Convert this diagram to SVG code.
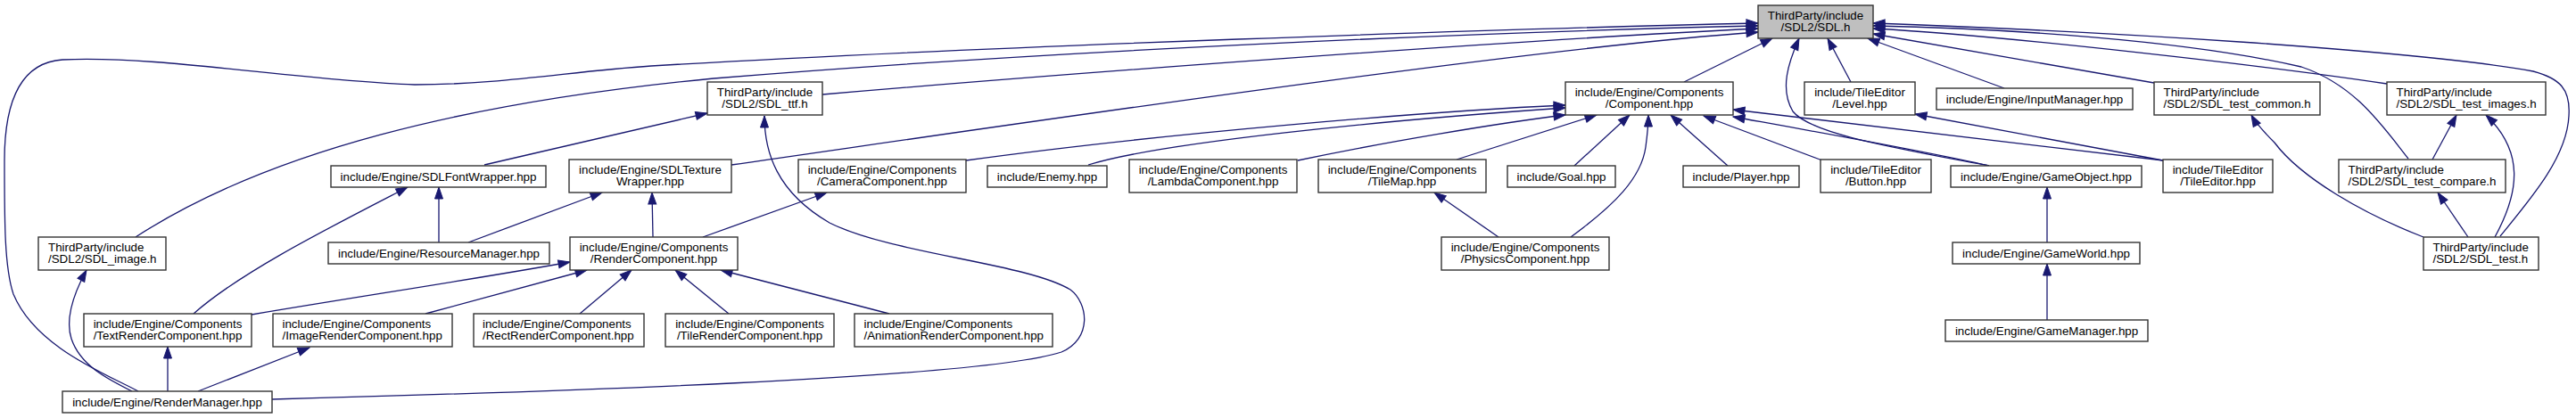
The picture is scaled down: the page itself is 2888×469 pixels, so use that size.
<svg xmlns="http://www.w3.org/2000/svg" width="2888" height="469" viewBox="0 0 2888 469">
<style>
.node rect{fill:#ffffff;stroke:#333333;stroke-width:1.4}
.node.focus rect{fill:#bfbfbf}
.node text{font-family:"Liberation Sans",Arial,Helvetica,sans-serif;font-size:13.33px;fill:#000000}
.c{text-anchor:middle}
.l{text-anchor:start}
.edge{fill:none;stroke:#191970;stroke-width:1.3;marker-end:url(#arr)}
</style>
<defs>
<marker id="arr" markerUnits="userSpaceOnUse" viewBox="0 0 13 9" refX="13" refY="4.5" markerWidth="13" markerHeight="9" orient="auto" overflow="visible">
<path d="M0,0 L13,4.5 L0,9 Z" fill="#191970" stroke="#191970" stroke-width="1"/>
</marker>
</defs>
<rect x="0" y="0" width="2888" height="469" fill="#ffffff"/>
<g id="edges">
<path class="edge" d="M155,439 C120,420 40,390 15,330 C5,300 5,250 5,180 C5,110 25,70 70,67 C180,62 330,90 465,95 C560,95 640,80 730,74 C1100,52 1700,32 1971,26"/>
<path class="edge" d="M152,266 C300,170 520,115 800,88 C1200,55 1700,35 1971,29"/>
<path class="edge" d="M922,106 C1200,82 1700,45 1971,32"/>
<path class="edge" d="M820,185 C1100,145 1700,55 1971,36"/>
<path class="edge" d="M1888,92 L1987,43"/>
<path class="edge" d="M2230,186 C2120,165 2030,150 2010,125 C1995,100 2005,70 2017,43"/>
<path class="edge" d="M2075,92 L2049,43"/>
<path class="edge" d="M2247,99 L2094,43"/>
<path class="edge" d="M2415,93 L2100,38"/>
<path class="edge" d="M2676,94 C2550,75 2250,40 2100,32"/>
<path class="edge" d="M2700,178 C2670,140 2640,95 2580,75 C2450,45 2250,32 2100,29"/>
<path class="edge" d="M2803,265 C2840,220 2878,175 2880,130 C2882,100 2870,88 2840,80 C2700,55 2350,35 2100,26"/>
<path class="edge" d="M543,185 L793,127"/>
<path class="edge" d="M305,448 C600,440 1100,425 1190,395 C1225,380 1220,340 1200,325 C1150,295 1000,285 930,250 C870,215 857,170 857,130"/>
<path class="edge" d="M492,272 L492,210"/>
<path class="edge" d="M217,352 C270,305 370,255 457,210"/>
<path class="edge" d="M525,272 L675,216"/>
<path class="edge" d="M732,266 L731,216"/>
<path class="edge" d="M788,266 L927,216"/>
<path class="edge" d="M282,353 C400,333 540,312 639,294"/>
<path class="edge" d="M477,352 L658,303"/>
<path class="edge" d="M650,352 L708,303"/>
<path class="edge" d="M817,352 L757,303"/>
<path class="edge" d="M997,352 L808,303"/>
<path class="edge" d="M148,439 C120,425 90,410 80,380 C72,355 85,325 97,303"/>
<path class="edge" d="M188,439 L188,389"/>
<path class="edge" d="M222,439 L347,390"/>
<path class="edge" d="M1083,180 C1300,150 1600,125 1755,118"/>
<path class="edge" d="M1220,185 C1300,160 1550,135 1755,121"/>
<path class="edge" d="M1455,180 C1550,160 1680,138 1755,129"/>
<path class="edge" d="M1633,179 L1790,129"/>
<path class="edge" d="M1765,186 L1827,129"/>
<path class="edge" d="M1761,266 C1810,230 1840,200 1845,165 C1847,150 1848,140 1848,129"/>
<path class="edge" d="M1937,186 L1873,129"/>
<path class="edge" d="M2043,180 L1910,130"/>
<path class="edge" d="M2230,186 C2150,168 2020,145 1943,131"/>
<path class="edge" d="M2425,180 L1943,123"/>
<path class="edge" d="M1680,266 L1608,216"/>
<path class="edge" d="M2425,180 L2147,128"/>
<path class="edge" d="M2295,272 L2295,210"/>
<path class="edge" d="M2295,359 L2295,296"/>
<path class="edge" d="M2717,266 C2650,240 2580,200 2550,160 C2540,150 2530,140 2524,129"/>
<path class="edge" d="M2727,179 L2754,129"/>
<path class="edge" d="M2797,266 C2825,215 2830,170 2787,129"/>
<path class="edge" d="M2767,266 L2733,216"/>
</g>
<g id="node-sdl" class="node focus"><rect x="1971" y="6" width="129" height="37"/><text class="c" x="2035.5" y="22.3">ThirdParty/include</text><text class="c" x="2035.5" y="35.3">/SDL2/SDL.h</text></g>
<g id="node-sdl-ttf" class="node"><rect x="793" y="92" width="129" height="37"/><text class="c" x="857.5" y="108.3">ThirdParty/include</text><text class="c" x="857.5" y="121.3">/SDL2/SDL_ttf.h</text></g>
<g id="node-sdlfontwrapper" class="node"><rect x="371" y="186" width="241" height="24"/><text class="c" x="491.5" y="202.5">include/Engine/SDLFontWrapper.hpp</text></g>
<g id="node-sdltexturewrapper" class="node"><rect x="638" y="179" width="182" height="37"/><text class="c" x="729" y="195.3">include/Engine/SDLTexture</text><text class="c" x="729" y="208.3">Wrapper.hpp</text></g>
<g id="node-camera" class="node"><rect x="895" y="179" width="188" height="37"/><text class="c" x="989" y="195.3">include/Engine/Components</text><text class="c" x="989" y="208.3">/CameraComponent.hpp</text></g>
<g id="node-enemy" class="node"><rect x="1107" y="186" width="134" height="24"/><text class="c" x="1174" y="202.5">include/Enemy.hpp</text></g>
<g id="node-lambda" class="node"><rect x="1266" y="179" width="188" height="37"/><text class="c" x="1360" y="195.3">include/Engine/Components</text><text class="c" x="1360" y="208.3">/LambdaComponent.hpp</text></g>
<g id="node-tilemap" class="node"><rect x="1478" y="179" width="188" height="37"/><text class="c" x="1572" y="195.3">include/Engine/Components</text><text class="c" x="1572" y="208.3">/TileMap.hpp</text></g>
<g id="node-goal" class="node"><rect x="1690" y="186" width="121" height="24"/><text class="c" x="1750.5" y="202.5">include/Goal.hpp</text></g>
<g id="node-component" class="node"><rect x="1755" y="92" width="188" height="37"/><text class="c" x="1849" y="108.3">include/Engine/Components</text><text class="c" x="1849" y="121.3">/Component.hpp</text></g>
<g id="node-player" class="node"><rect x="1887" y="186" width="130" height="24"/><text class="c" x="1952" y="202.5">include/Player.hpp</text></g>
<g id="node-button" class="node"><rect x="2041" y="179" width="124" height="37"/><text class="c" x="2103" y="195.3">include/TileEditor</text><text class="c" x="2103" y="208.3">/Button.hpp</text></g>
<g id="node-level" class="node"><rect x="2023" y="92" width="124" height="37"/><text class="c" x="2085" y="108.3">include/TileEditor</text><text class="c" x="2085" y="121.3">/Level.hpp</text></g>
<g id="node-inputmanager" class="node"><rect x="2171" y="99" width="220" height="24"/><text class="c" x="2281" y="115.5">include/Engine/InputManager.hpp</text></g>
<g id="node-gameobject" class="node"><rect x="2187" y="186" width="214" height="24"/><text class="c" x="2294" y="202.5">include/Engine/GameObject.hpp</text></g>
<g id="node-tileeditor" class="node"><rect x="2425" y="179" width="123" height="37"/><text class="c" x="2486.5" y="195.3">include/TileEditor</text><text class="c" x="2486.5" y="208.3">/TileEditor.hpp</text></g>
<g id="node-sdl-test-common" class="node"><rect x="2415" y="92" width="186" height="37"/><text class="l" x="2425.5" y="108.3">ThirdParty/include</text><text class="l" x="2425.5" y="121.3">/SDL2/SDL_test_common.h</text></g>
<g id="node-sdl-test-images" class="node"><rect x="2676" y="92" width="178" height="37"/><text class="l" x="2686.5" y="108.3">ThirdParty/include</text><text class="l" x="2686.5" y="121.3">/SDL2/SDL_test_images.h</text></g>
<g id="node-sdl-test-compare" class="node"><rect x="2622" y="179" width="187" height="37"/><text class="l" x="2632.5" y="195.3">ThirdParty/include</text><text class="l" x="2632.5" y="208.3">/SDL2/SDL_test_compare.h</text></g>
<g id="node-sdl-test" class="node"><rect x="2717" y="266" width="129" height="37"/><text class="l" x="2727.5" y="282.3">ThirdParty/include</text><text class="l" x="2727.5" y="295.3">/SDL2/SDL_test.h</text></g>
<g id="node-sdl-image" class="node"><rect x="43" y="266" width="143" height="37"/><text class="l" x="54" y="282.3">ThirdParty/include</text><text class="l" x="54" y="295.3">/SDL2/SDL_image.h</text></g>
<g id="node-resourcemanager" class="node"><rect x="368" y="272" width="248" height="24"/><text class="c" x="492" y="288.5">include/Engine/ResourceManager.hpp</text></g>
<g id="node-rendercomponent" class="node"><rect x="639" y="266" width="188" height="37"/><text class="c" x="733" y="282.3">include/Engine/Components</text><text class="c" x="733" y="295.3">/RenderComponent.hpp</text></g>
<g id="node-physics" class="node"><rect x="1616" y="266" width="188" height="37"/><text class="c" x="1710" y="282.3">include/Engine/Components</text><text class="c" x="1710" y="295.3">/PhysicsComponent.hpp</text></g>
<g id="node-gameworld" class="node"><rect x="2189" y="272" width="210" height="24"/><text class="c" x="2294" y="288.5">include/Engine/GameWorld.hpp</text></g>
<g id="node-textrender" class="node"><rect x="94" y="352" width="188" height="37"/><text class="c" x="188" y="368.3">include/Engine/Components</text><text class="c" x="188" y="381.3">/TextRenderComponent.hpp</text></g>
<g id="node-imagerender" class="node"><rect x="306" y="352" width="201" height="37"/><text class="l" x="316.5" y="368.3">include/Engine/Components</text><text class="l" x="316.5" y="381.3">/ImageRenderComponent.hpp</text></g>
<g id="node-rectrender" class="node"><rect x="531" y="352" width="191" height="37"/><text class="l" x="541" y="368.3">include/Engine/Components</text><text class="l" x="541" y="381.3">/RectRenderComponent.hpp</text></g>
<g id="node-tilerender" class="node"><rect x="746" y="352" width="189" height="37"/><text class="c" x="840.5" y="368.3">include/Engine/Components</text><text class="c" x="840.5" y="381.3">/TileRenderComponent.hpp</text></g>
<g id="node-animationrender" class="node"><rect x="958" y="352" width="222" height="37"/><text class="l" x="968.5" y="368.3">include/Engine/Components</text><text class="l" x="968.5" y="381.3">/AnimationRenderComponent.hpp</text></g>
<g id="node-rendermanager" class="node"><rect x="70" y="439" width="235" height="24"/><text class="c" x="187.5" y="455.5">include/Engine/RenderManager.hpp</text></g>
<g id="node-gamemanager" class="node"><rect x="2181" y="359" width="227" height="24"/><text class="c" x="2294.5" y="375.5">include/Engine/GameManager.hpp</text></g>
</svg>
